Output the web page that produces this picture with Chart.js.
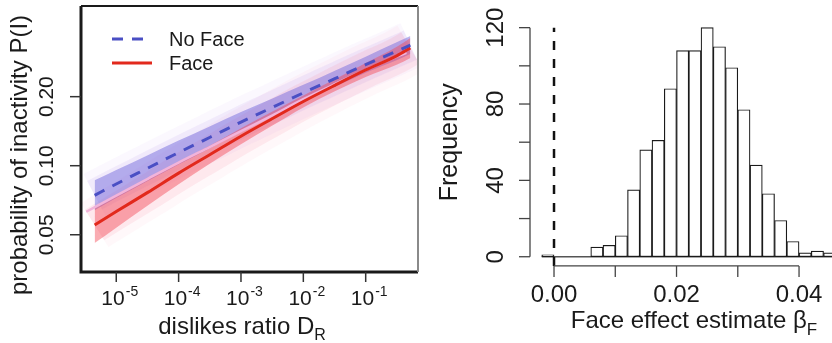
<!DOCTYPE html>
<html>
<head>
<meta charset="utf-8">
<script src="https://cdn.jsdelivr.net/npm/chart.js@4.4.1/dist/chart.umd.min.js"></script>
<style>
  html, body { margin: 0; padding: 0; background: #fff; }
  #wrap { position: relative; width: 832px; height: 343px; overflow: hidden; }
  #left { position: absolute; left: 0; top: 0; }
  #right { position: absolute; left: 420px; top: 0; }
</style>
</head>
<body>
<div id="wrap">
  <canvas id="left" width="420" height="343"></canvas>
  <canvas id="right" width="412" height="343"></canvas>
</div>
<script>
// left panel: P(I) vs dislikes ratio
var ratioX   = [4.5e-6, 1e-5, 3.2e-5, 1e-4, 3.2e-4, 1e-3, 3.2e-3, 1e-2, 3.2e-2, 0.1, 0.32, 0.52];
var noFace   = [0.0743, 0.0832, 0.0976, 0.1141, 0.1331, 0.1549, 0.1796, 0.2078, 0.2396, 0.2758, 0.3165, 0.3358];
var noFaceHi = [0.0864, 0.0958, 0.1112, 0.1287, 0.1486, 0.1713, 0.1966, 0.2252, 0.2597, 0.2989, 0.3464, 0.3676];
var noFaceLo = [0.0639, 0.0723, 0.0857, 0.1011, 0.1192, 0.1401, 0.1641, 0.1918, 0.2211, 0.2545, 0.2891, 0.3068];
var face     = [0.0551, 0.0631, 0.0765, 0.0928, 0.1119, 0.1345, 0.1606, 0.1906, 0.2242, 0.2615, 0.3022, 0.3262];
var faceHi   = [0.0660, 0.0741, 0.0872, 0.1036, 0.1225, 0.1458, 0.1723, 0.2024, 0.2381, 0.2805, 0.3308, 0.3607];
var faceLo   = [0.0460, 0.0537, 0.0671, 0.0831, 0.1022, 0.1241, 0.1497, 0.1795, 0.2111, 0.2438, 0.2761, 0.2950];
var pooledX  = [3.3e-6, 1e-5, 3.2e-5, 1e-4, 3.2e-4, 1e-3, 3.2e-3, 1e-2, 3.2e-2, 0.1, 0.32, 0.45];
var pooled   = [0.0630, 0.0741, 0.0877, 0.1032, 0.1209, 0.1414, 0.1659, 0.1949, 0.2267, 0.2615, 0.2995, 0.3102];
var ratioTicks = [1e-5, 1e-4, 1e-3, 1e-2, 1e-1];
var probTicks  = [0.05, 0.10, 0.20];

// right panel: histogram of the face effect
var binMids   = [-0.001, 0.001, 0.003, 0.005, 0.007, 0.009, 0.011, 0.013, 0.015, 0.017, 0.019, 0.021,
                 0.023, 0.025, 0.027, 0.029, 0.031, 0.033, 0.035, 0.037, 0.039, 0.041, 0.043, 0.045];
var binCounts = [1, 0, 0, 0, 5, 6, 11, 35, 56, 61, 88, 108, 108, 120, 110, 99, 77, 48, 33, 19, 8, 2, 3, 2];
var binWidth  = 0.002;
var refLine   = 0;
var freqTicks  = [0, 20, 40, 60, 80, 100, 120];
var freqLabels = [0, 40, 80, 120];
var betaTicks  = [0, 0.01, 0.02, 0.03, 0.04];
var betaLabels = [0, 0.02, 0.04];

var FONT = '"Liberation Sans", Arial, Helvetica, sans-serif';

function pts(xs, ys) {
  return xs.map(function(x, i) { return { x: x, y: ys[i] }; });
}

// 縦書きラベル（下から上へ）
function rotText(ctx, text, x, y, size) {
  ctx.save();
  ctx.translate(x, y);
  ctx.rotate(-Math.PI / 2);
  ctx.font = size + 'px ' + FONT;
  ctx.textAlign = 'center';
  ctx.textBaseline = 'alphabetic';
  ctx.fillText(text, 0, 0);
  ctx.restore();
}

// 下付き文字つきテキスト（中央揃え）
function subText(ctx, main, sub, cx, y, size, subSize, drop) {
  ctx.font = size + 'px ' + FONT;
  var w1 = ctx.measureText(main).width;
  ctx.font = subSize + 'px ' + FONT;
  var w2 = ctx.measureText(sub).width;
  var x0 = cx - (w1 + w2) / 2;
  ctx.textAlign = 'left';
  ctx.textBaseline = 'alphabetic';
  ctx.font = size + 'px ' + FONT;
  ctx.fillText(main, x0, y);
  ctx.font = subSize + 'px ' + FONT;
  ctx.fillText(sub, x0 + w1, y + drop);
}

var leftAxes = {
  id: 'leftAxes',
  afterDraw: function(chart) {
    var ctx = chart.ctx, a = chart.chartArea;
    var xs = chart.scales.x, ys = chart.scales.y;
    ctx.save();

    // frame
    ctx.strokeStyle = '#1a1a1a';
    ctx.lineWidth = 3;
    ctx.beginPath();
    ctx.moveTo(a.left, a.top);
    ctx.lineTo(a.left, a.bottom);
    ctx.lineTo(a.right, a.bottom);
    ctx.stroke();
    ctx.lineWidth = 2;
    ctx.beginPath();
    ctx.moveTo(a.left, a.top);
    ctx.lineTo(a.right, a.top);
    ctx.stroke();
    ctx.strokeStyle = '#8a8a8a';
    ctx.beginPath();
    ctx.moveTo(a.right, a.top);
    ctx.lineTo(a.right, a.bottom);
    ctx.stroke();

    ctx.fillStyle = '#1a1a1a';
    ctx.strokeStyle = '#333';
    ctx.lineWidth = 1.5;

    // y ticks
    probTicks.forEach(function(v) {
      var py = ys.getPixelForValue(v);
      ctx.beginPath();
      ctx.moveTo(a.left - 11, py);
      ctx.lineTo(a.left, py);
      ctx.stroke();
      rotText(ctx, v.toFixed(2), 53, py, 21);
    });

    // x ticks: 10^n
    ratioTicks.forEach(function(v) {
      var px = xs.getPixelForValue(v);
      ctx.beginPath();
      ctx.moveTo(px, a.bottom);
      ctx.lineTo(px, a.bottom + 10);
      ctx.stroke();
      var ex = String(Math.round(Math.log10(v)));
      ctx.font = '21px ' + FONT;
      var w1 = ctx.measureText('10').width;
      ctx.font = '14px ' + FONT;
      var w2 = ctx.measureText(ex).width;
      var x0 = px + 3 - (w1 + w2) / 2;
      ctx.textAlign = 'left';
      ctx.font = '21px ' + FONT;
      ctx.fillText('10', x0, 305);
      ctx.font = '14px ' + FONT;
      ctx.fillText(ex, x0 + w1 + 1, 296);
    });

    // axis titles
    subText(ctx, 'dislikes ratio D', 'R', 242, 334, 24, 16, 6);
    rotText(ctx, 'probability of inactivity P(I)', 27, 155, 24);

    // legend
    var ds = chart.data.datasets;
    [0, 1].forEach(function(i) {
      var ly = 39 + i * 24;
      ctx.strokeStyle = ds[i].borderColor;
      ctx.lineWidth = 3;
      ctx.setLineDash(ds[i].borderDash || []);
      ctx.beginPath();
      ctx.moveTo(112, ly);
      ctx.lineTo(i === 0 ? 146 : 152, ly);
      ctx.stroke();
      ctx.setLineDash([]);
      ctx.font = '20px ' + FONT;
      ctx.fillStyle = '#1a1a1a';
      ctx.textAlign = 'left';
      ctx.fillText(ds[i].label, 169, ly + 7);
    });
    ctx.restore();
  }
};

var clear = 'rgba(0,0,0,0)';

new Chart(document.getElementById('left'), {
  type: 'line',
  data: {
    datasets: [
      { label: 'No Face', data: pts(ratioX, noFace), borderColor: '#4a4fc4', borderWidth: 3,
        borderDash: [11, 9], order: 0 },
      { label: 'Face', data: pts(ratioX, face), borderColor: '#e2291c', borderWidth: 3, order: 1 },
      { label: 'pooled', data: pts(pooledX, pooled), borderColor: '#f2b4da', borderWidth: 2.5, order: 2 },
      { label: 'nf hi', data: pts(ratioX, noFaceHi), borderColor: clear, borderWidth: 0,
        fill: '+1', backgroundColor: 'rgba(118,108,222,0.5)', order: 5 },
      { label: 'nf lo', data: pts(ratioX, noFaceLo), borderColor: clear, borderWidth: 0, order: 6 },
      { label: 'f hi', data: pts(ratioX, faceHi), borderColor: clear, borderWidth: 0,
        fill: '+1', backgroundColor: 'rgba(245,72,85,0.45)', order: 3 },
      { label: 'f lo', data: pts(ratioX, faceLo), borderColor: clear, borderWidth: 0, order: 4 },
      { label: 'nf glow', data: pts(ratioX, noFace), borderColor: 'rgba(150,110,230,0.10)', borderWidth: 32, order: 8 },
      { label: 'f glow', data: pts(ratioX, face), borderColor: 'rgba(250,90,120,0.10)', borderWidth: 36, order: 7 },
      { label: 'nf haze', data: pts(ratioX, noFace), borderColor: 'rgba(170,120,230,0.05)', borderWidth: 48, order: 10 },
      { label: 'f haze', data: pts(ratioX, face), borderColor: 'rgba(250,110,150,0.05)', borderWidth: 52, order: 9 }
    ]
  },
  options: {
    responsive: false,
    animation: false,
    layout: { padding: { left: 81, top: 6, right: 2, bottom: 71 } },
    elements: {
      point: { radius: 0 },
      line: { cubicInterpolationMode: 'monotone', borderCapStyle: 'butt' }
    },
    scales: {
      x: { type: 'logarithmic', min: 2.72e-6, max: 0.69, display: false },
      y: { type: 'logarithmic', min: 0.0344, max: 0.497, display: false }
    },
    plugins: {
      legend: { display: false },
      tooltip: { enabled: false }
    }
  },
  plugins: [leftAxes]
});

var rightAxes = {
  id: 'rightAxes',
  afterDraw: function(chart) {
    var ctx = chart.ctx, a = chart.chartArea;
    var xs = chart.scales.x, ys = chart.scales.y;
    ctx.save();
    ctx.strokeStyle = '#444';
    ctx.fillStyle = '#1a1a1a';
    ctx.lineWidth = 1.3;

    // y axis
    ctx.beginPath();
    ctx.moveTo(a.left, ys.getPixelForValue(freqTicks[0]));
    ctx.lineTo(a.left, ys.getPixelForValue(freqTicks[freqTicks.length - 1]));
    ctx.stroke();
    freqTicks.forEach(function(v) {
      var py = ys.getPixelForValue(v);
      ctx.beginPath();
      ctx.moveTo(a.left - 11, py);
      ctx.lineTo(a.left, py);
      ctx.stroke();
    });
    freqLabels.forEach(function(v) {
      rotText(ctx, String(v), a.left - 27, ys.getPixelForValue(v), 24);
    });

    // x axis
    var ay = a.bottom;
    ctx.beginPath();
    ctx.moveTo(xs.getPixelForValue(betaTicks[0]), ay);
    ctx.lineTo(xs.getPixelForValue(betaTicks[betaTicks.length - 1]), ay);
    ctx.stroke();
    betaTicks.forEach(function(v) {
      var px = xs.getPixelForValue(v);
      ctx.beginPath();
      ctx.moveTo(px, ay);
      ctx.lineTo(px, ay + 11);
      ctx.stroke();
    });
    ctx.font = '24px ' + FONT;
    ctx.textAlign = 'center';
    betaLabels.forEach(function(v) {
      ctx.fillText(v.toFixed(2), xs.getPixelForValue(v), 302);
    });

    // titles
    rotText(ctx, 'Frequency', 37, (a.top + a.bottom) / 2, 25);
    subText(ctx, 'Face effect estimate \u03B2', 'F', 274, 328, 24, 17, 7);
    ctx.restore();
  }
};

new Chart(document.getElementById('right'), {
  type: 'bar',
  data: {
    datasets: [
      { type: 'line', label: 'zero', data: [{ x: refLine, y: -4.8 }, { x: refLine, y: 120 }],
        borderColor: '#111', borderWidth: 2.5, borderDash: [9, 9], order: 0 },
      { type: 'bar', label: 'counts', data: pts(binMids, binCounts), backgroundColor: '#fff',
        borderColor: '#1a1a1a', borderWidth: 1.2, borderSkipped: false,
        barPercentage: 1, categoryPercentage: 1, order: 1 },
      { type: 'line', label: 'base',
        data: [{ x: binMids[0] - binWidth / 2, y: 0 }, { x: binMids[binMids.length - 1] + binWidth / 2, y: 0 }],
        borderColor: '#555', borderWidth: 1.3, order: 2 }
    ]
  },
  options: {
    responsive: false,
    animation: false,
    layout: { padding: { left: 110, top: 18.5, right: 0, bottom: 77.1 } },
    elements: { point: { radius: 0 } },
    scales: {
      x: { type: 'linear', min: -0.00392, max: 0.04538, offset: false, display: false },
      y: { type: 'linear', min: -4.8, max: 124.8, display: false }
    },
    plugins: {
      legend: { display: false },
      tooltip: { enabled: false }
    }
  },
  plugins: [rightAxes]
});
</script>
</body>
</html>
